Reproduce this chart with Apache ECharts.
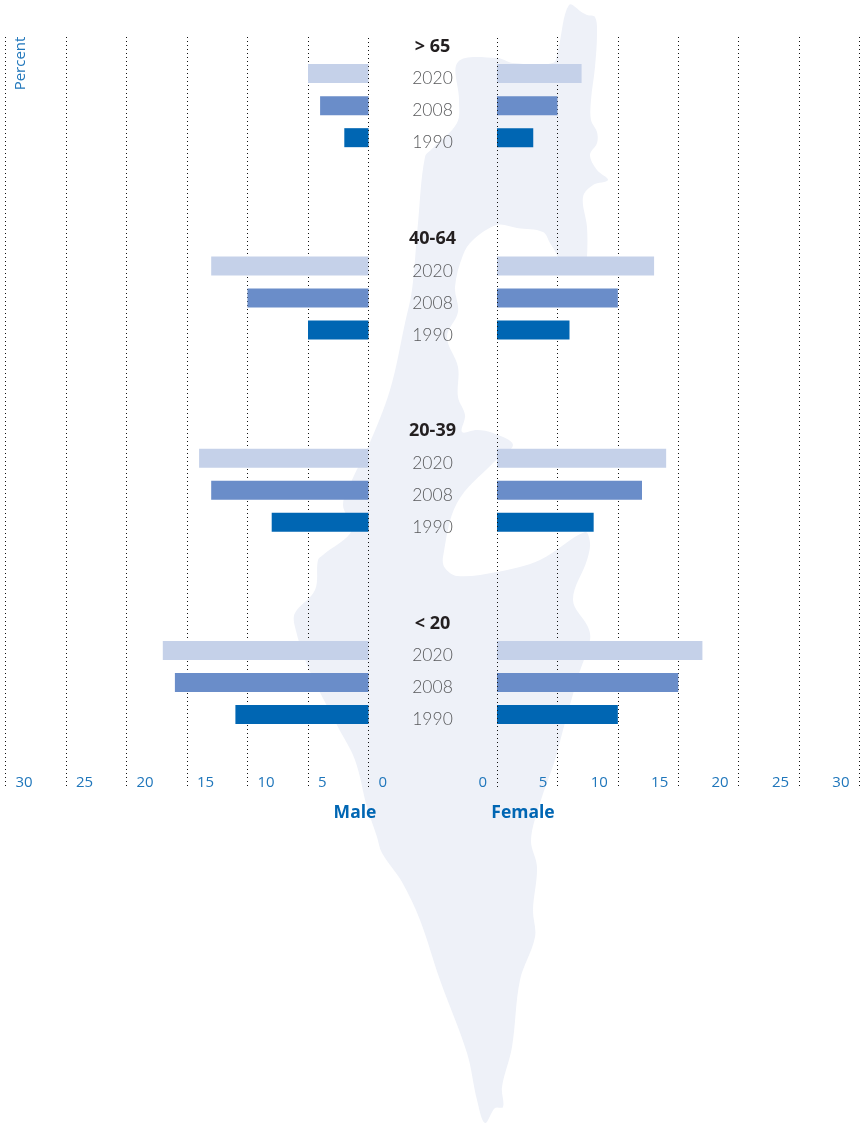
<!DOCTYPE html>
<html>
<head>
<meta charset="utf-8">
<style>html,body{margin:0;padding:0;background:#fff}#c{width:860px;height:1123px}</style>
<script src="https://cdn.jsdelivr.net/npm/echarts@6/dist/echarts.min.js"></script>
</head>
<body>
<div id="c"></div>
<script>
const ageGroups = ['> 65', '40-64', '20-39', '< 20'];
const years = ['2020', '2008', '1990'];
const male2020 = [5, 13, 14, 17];
const male2008 = [4, 10, 13, 16];
const male1990 = [2, 5, 8, 11];
const female2020 = [7, 13, 14, 17];
const female2008 = [5, 10, 12, 15];
const female1990 = [3, 6, 8, 10];
const yearColors = ['#c5d1e9', '#6a8dc9', '#0066b3'];
const tickLabelColor = '#1f76bb';

// decorative background silhouette
const silhouette = [
 [569,5],[583,13],[587,15],[595,17],[597,33],[595,67],[591,100],[591,120],[597,132],[597,143],[590,155],[597,170],[608,180],[593,185],[583,197],[587,227],[587,257],[585,268],[560,268],[557,255],[550,243],[543,232],[517,228],[497,225],[473,240],[463,255],[455,287],[458,312],[447,337],[458,367],[458,397],[465,415],[462,432],[477,430],[493,433],[513,445],[493,463],[457,503],[443,557],[445,568],[457,576],[497,572],[540,560],[585,532],[590,543],[587,560],[573,600],[588,627],[590,640],[578,677],[563,730],[555,760],[540,803],[531,840],[537,867],[533,910],[535,937],[520,980],[512,1047],[502,1087],[503,1107],[495,1108],[485,1123],[477,1100],[467,1053],[440,980],[420,920],[402,882],[382,853],[377,837],[367,807],[355,760],[338,727],[308,667],[295,627],[295,613],[315,590],[318,560],[323,555],[352,530],[343,505],[352,480],[368,447],[390,390],[405,323],[412,290],[418,223],[425,157],[433,148],[457,123],[459,100],[458,62],[497,58],[513,63],[553,63],[558,50]
];

const labelBase = { align: 'center', verticalAlign: 'top', lineHeight: 10 };
const rows = [];
ageGroups.forEach((a, g) => {
  rows.push({ value: a, textStyle: { ...labelBase, fontFamily: 'Open Sans', fontWeight: 700, fontSize: 18, color: '#231f20' } });
  years.forEach(y => rows.push({ value: y, textStyle: { ...labelBase, fontFamily: 'Lato', fontWeight: 300, fontSize: 17.5, color: '#58595b' } }));
  if (g < ageGroups.length - 1) rows.push({ value: ' ' }, { value: '  ' });
});

function rowData(vals, j) {
  const d = new Array(rows.length).fill(null);
  vals.forEach((v, g) => { d[g * 6 + 1 + j] = v; });
  return d;
}
const maleSets = [male2020, male2008, male1990];
const femaleSets = [female2020, female2008, female1990];
const series = [];
years.forEach((y, j) => {
  series.push({ type: 'bar', name: 'Male ' + y, xAxisIndex: 0, yAxisIndex: 0, data: rowData(maleSets[j], j), barWidth: 19, barGap: '-100%', itemStyle: { color: yearColors[j] }, silent: true });
  series.push({ type: 'bar', name: 'Female ' + y, xAxisIndex: 1, yAxisIndex: 1, data: rowData(femaleSets[j], j), barWidth: 19, barGap: '-100%', itemStyle: { color: yearColors[j] }, silent: true });
});

const dotted = { color: '#111', width: 1, type: [1, 3], cap: 'butt' };
const ROW = 32.05;
const barGrid = { top: 25.5, height: ROW * rows.length };
const lineGrid = { top: 37, height: 750 };

function valueAxis(gridIndex, inverse, lines) {
  return {
    type: 'value', gridIndex, inverse, min: 0, max: 30, interval: 5, position: 'bottom',
    axisLine: { show: false }, axisTick: { show: false },
    splitLine: { show: lines, showMinLine: false, lineStyle: dotted },
    axisLabel: lines ? {
      show: true, inside: true, margin: 4, verticalAlign: 'middle',
      align: inverse ? 'left' : 'right',
      padding: inverse ? [0, 0, 0, 10] : [0, 10, 0, 0],
      color: tickLabelColor, fontFamily: 'Open Sans', fontSize: 15,
      showMinLabel: true, showMaxLabel: true, hideOverlap: false
    } : { show: false }
  };
}

const option = {
  animation: false,
  backgroundColor: '#fff',
  grid: [
    { left: 5.5, width: 363, ...barGrid },
    { left: 497, width: 362.5, ...barGrid },
    { left: 5.5, width: 363, ...lineGrid },
    { left: 497, width: 362.5, ...lineGrid }
  ],
  xAxis: [valueAxis(0, true, false), valueAxis(1, false, false), valueAxis(2, true, true), valueAxis(3, false, true)],
  yAxis: [
    { type: 'category', gridIndex: 0, inverse: true, position: 'right', data: rows,
      axisLine: { show: false }, axisTick: { show: false }, splitLine: { show: false },
      axisLabel: { show: true, interval: 0, margin: 64, align: 'center' } },
    { type: 'category', gridIndex: 1, inverse: true, data: rows,
      axisLine: { show: false }, axisTick: { show: false }, axisLabel: { show: false }, splitLine: { show: false } },
    { type: 'value', gridIndex: 2, min: 0, max: 1, position: 'right', z: 5,
      axisLine: { show: true, lineStyle: dotted }, axisTick: { show: false }, axisLabel: { show: false }, splitLine: { show: false } },
    { type: 'value', gridIndex: 3, min: 0, max: 1, position: 'left', z: 5,
      axisLine: { show: true, lineStyle: dotted }, axisTick: { show: false }, axisLabel: { show: false }, splitLine: { show: false } }
  ],
  series,
  graphic: [
    { type: 'polygon', z: -10, silent: true, shape: { points: silhouette, smooth: 0.35 }, style: { fill: '#eef1f8' } },
    { type: 'text', x: 355, y: 813, style: { text: 'Male', fill: '#0066b3', font: '700 17.5px "Open Sans"', textAlign: 'center', textVerticalAlign: 'middle' } },
    { type: 'text', x: 523, y: 813, style: { text: 'Female', fill: '#0066b3', font: '700 17.5px "Open Sans"', textAlign: 'center', textVerticalAlign: 'middle' } },
    { type: 'text', x: 21, y: 63.5, rotation: Math.PI / 2, style: { text: 'Percent', fill: tickLabelColor, font: '15px "Open Sans"', textAlign: 'center', textVerticalAlign: 'middle' } }
  ]
};
echarts.init(document.getElementById('c'), null, { renderer: 'canvas' }).setOption(option);
</script>
</body>
</html>
